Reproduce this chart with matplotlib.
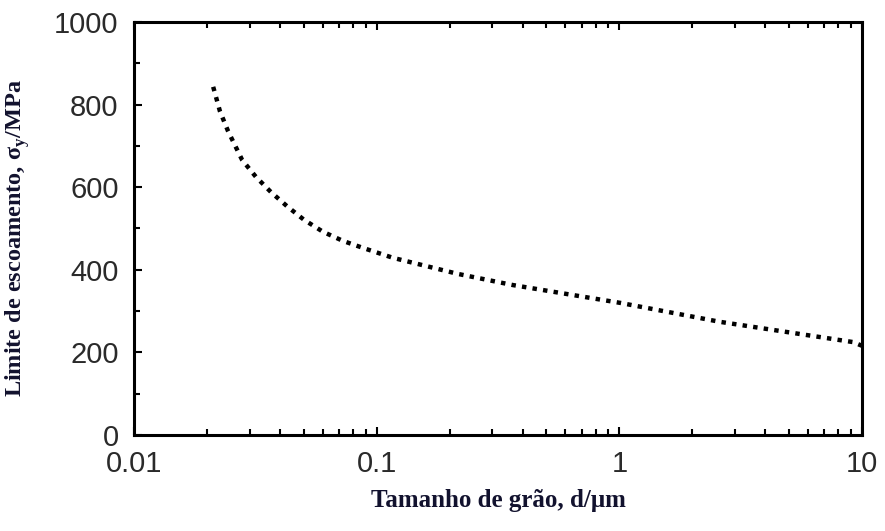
import numpy as np
import matplotlib.pyplot as plt
from matplotlib.ticker import MultipleLocator, LogLocator, FixedLocator

# grain size (um) and yield stress (MPa)
grain_size = [0.0212, 0.0226, 0.0244, 0.0279, 0.0318, 0.0367, 0.0427, 0.0502,
              0.0601, 0.0726, 0.0878, 0.1167, 0.2163, 0.3645, 1.006, 2.598,
              9.174, 10.0]
yield_stress = [843, 784, 736, 666, 625, 588, 554, 521,
                492, 470, 453, 429, 390, 363, 320, 274,
                225, 216]

x_ticks = [0.01, 0.1, 1, 10]
x_ticklabels = ["0.01", "0.1", "1", "10"]
y_ticks = [0, 200, 400, 600, 800, 1000]

label_color = "#12122e"

fig = plt.figure(figsize=(8.85, 5.31), dpi=100)
ax = fig.add_axes([0.1514, 0.1808, 0.8226, 0.7778])

ax.plot(grain_size, yield_stress, color="black", lw=3.2,
        dashes=(1, 1.4), dash_capstyle="butt")

ax.set_xscale("log")
ax.set_xlim(0.01, 10)
ax.set_ylim(0, 1000)

ax.xaxis.set_major_locator(FixedLocator(x_ticks))
ax.set_xticklabels(x_ticklabels)
ax.xaxis.set_minor_locator(LogLocator(base=10, subs=np.arange(2, 10)))
ax.xaxis.set_minor_formatter(plt.NullFormatter())
ax.set_yticks(y_ticks)
ax.yaxis.set_minor_locator(MultipleLocator(100))

for sp in ax.spines.values():
    sp.set_linewidth(2.2)

ax.tick_params(which="both", direction="in", top=True, right=False,
               width=1.5, labelsize=21, pad=11)
ax.tick_params(which="major", length=6)
ax.tick_params(which="minor", length=4.5)
for lab in ax.get_xticklabels() + ax.get_yticklabels():
    lab.set_fontfamily("Liberation Sans")
    lab.set_color("#2a2a2a")

ax.set_xlabel("Tamanho de grão, d/μm", family="Liberation Serif",
              fontweight="bold", fontsize=18, color=label_color, labelpad=8)
ax.set_ylabel(r"Limite de escoamento, σ$_\mathregular{y}$/MPa", family="Liberation Serif",
              fontweight="bold", fontsize=17.5, color=label_color)
ax.yaxis.set_label_coords(-0.140, 0.477)

fig.savefig("out.png", dpi=100)
